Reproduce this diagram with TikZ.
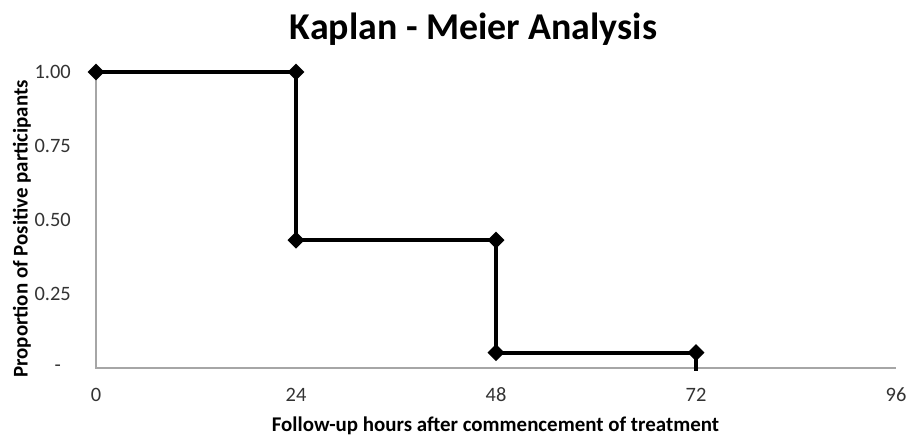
\documentclass[tikz,border=0pt]{standalone}
\usepackage{fontspec}
\setmainfont{Carlito}
\usetikzlibrary{shapes.geometric,positioning}

\begin{document}
\begin{tikzpicture}[x=200bp/24,y=296bp,
  ax/.style={draw=black!35,line width=1.5bp},%
  km/.style={line width=4bp},%
  mk/.style={diamond,fill=black,inner sep=0pt,minimum size=17bp},%
  tk/.style={inner sep=0pt,text=black!80,font=\fontsize{20.5}{24}\selectfont},%
  lb/.style={inner sep=0pt,font=\bfseries\fontsize{21}{25}\selectfont},%
  ti/.style={inner sep=0pt,font=\bfseries\fontsize{38}{44}\selectfont},%
  ]
  \useasboundingbox (-11.52,-0.23649) rectangle (99.12,1.24324);

  % axes
  \coordinate (o) at (0,0);
  \coordinate (ytop) at (0,1);
  \coordinate (xend) at (96,0);
  \draw [ax] (ytop) -- (o) -- (xend);

  % markers
  \node (p0) [mk] at (0,1) {};
  \node (p1) [mk] at (24,1) {};
  \node (p2) [mk] at (24,0.432) {};
  \node (p3) [mk] at (48,0.432) {};
  \node (p4) [mk] at (48,0.052) {};
  \node (p5) [mk] at (72,0.052) {};
  \coordinate (p6) at (72,-0.01);

  \draw [km] (p0.center) -- (p1.center) -- (p2.center) -- (p3.center)%
    -- (p4.center) -- (p5.center) -- (p6);

  % tick labels
  \node (y100) [tk,anchor=east] at (-3,1) {1.00};
  \node (y075) [tk,anchor=east] at (-3,0.75) {0.75};
  \node (y050) [tk,anchor=east] at (-3,0.5) {0.50};
  \node (y025) [tk,anchor=east] at (-3,0.25) {0.25};
  \node (y000) [tk,anchor=east] at (-4.2,0) {-};

  \node (x0) [tk,anchor=base] at (0,-0.1138) {0};
  \node (x24) [tk,anchor=base] at (24,-0.1138) {24};
  \node (x48) [tk,anchor=base] at (48,-0.1138) {48};
  \node (x72) [tk,anchor=base] at (72,-0.1138) {72};
  \node (x96) [tk,anchor=base] at (96,-0.1138) {96};

  % labels
  \node (title) [ti,anchor=base] at (45.3,1.1081) {Kaplan - Meier Analysis};
  \node (xlab) [lb,anchor=base] at (47.94,-0.2162)%
    {Follow-up hours after commencement of treatment};
  \node (ylab) [lb,rotate=90] at (-8.88,0.4696)%
    {Proportion of Positive participants};
\end{tikzpicture}
\end{document}
